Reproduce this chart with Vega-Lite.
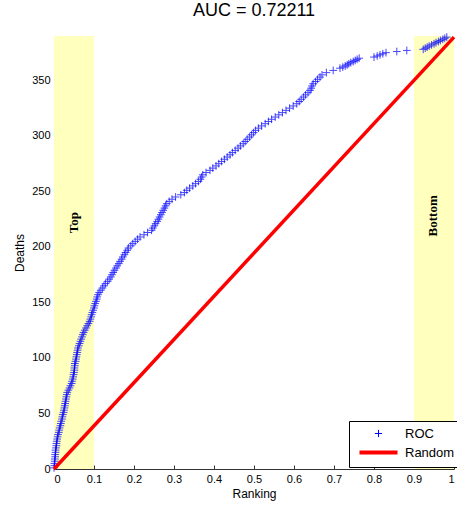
{
  "$schema": "https://vega.github.io/schema/vega-lite/v6.json",
  "width": 400,
  "height": 433,
  "autosize": "none",
  "padding": {"left": 54, "top": 36, "right": 3, "bottom": 37},
  "background": "white",
  "title": {"text": "AUC = 0.72211", "fontSize": 18, "font": "Liberation Sans", "fontWeight": "normal", "color": "black", "offset": 10, "anchor": "middle"},
  "config": {
    "view": {"stroke": null},
    "axis": {
      "grid": false,
      "domainColor": "#333333",
      "tickColor": "#333333",
      "tickSize": -4,
      "labelPadding": 8,
      "labelFont": "Liberation Sans",
      "labelFontSize": 11,
      "labelColor": "black",
      "titleFont": "Liberation Sans",
      "titleFontSize": 12,
      "titleFontWeight": "normal",
      "titleColor": "black"
    },
    "legend": {
      "orient": "none",
      "legendX": 295,
      "legendY": 385,
      "strokeColor": "black",
      "fillColor": "white",
      "padding": 6,
      "cornerRadius": 0,
      "labelFont": "Liberation Sans",
      "labelFontSize": 13,
      "labelColor": "black",
      "symbolSize": 64,
      "labelOffset": 37,
      "rowPadding": 3
    }
  },
  "encoding": {
    "x": {"field": "x", "type": "quantitative", "scale": {"domain": [0, 1], "nice": false},
      "axis": {"title": "Ranking", "values": [0, 0.1, 0.2, 0.3, 0.4, 0.5, 0.6, 0.7, 0.8, 0.9, 1], "format": "~g", "titlePadding": 4}},
    "y": {"field": "y", "type": "quantitative", "scale": {"domain": [0, 390], "nice": false},
      "axis": {"title": "Deaths", "values": [0, 50, 100, 150, 200, 250, 300, 350], "titlePadding": 5}}
  },
  "layer": [
    {
      "data": {"values": [{"x": 0, "x2": 0.1}, {"x": 0.9, "x2": 1}]},
      "mark": {"type": "rect", "color": "#ffffbe"},
      "encoding": {"x2": {"field": "x2"}, "y": null}
    },
    {
      "data": {"values": [
{"x":0.000,"y":1},{"x":0.001,"y":3},{"x":0.001,"y":5},{"x":0.002,"y":7},{"x":0.002,"y":9},{"x":0.003,"y":11},{"x":0.003,"y":13},{"x":0.004,"y":15},{"x":0.004,"y":17},{"x":0.005,"y":19},
{"x":0.006,"y":21},{"x":0.006,"y":23},{"x":0.007,"y":25},{"x":0.008,"y":27},{"x":0.009,"y":29},{"x":0.010,"y":31},{"x":0.012,"y":33},{"x":0.013,"y":35},{"x":0.014,"y":37},{"x":0.016,"y":39},
{"x":0.017,"y":41},{"x":0.018,"y":43},{"x":0.020,"y":45},{"x":0.021,"y":47},{"x":0.022,"y":49},{"x":0.024,"y":51},{"x":0.025,"y":53},{"x":0.026,"y":55},{"x":0.027,"y":57},{"x":0.028,"y":59},
{"x":0.029,"y":61},{"x":0.030,"y":63},{"x":0.031,"y":65},{"x":0.032,"y":67},{"x":0.033,"y":69},{"x":0.036,"y":71},{"x":0.039,"y":73},{"x":0.041,"y":75},{"x":0.044,"y":77},{"x":0.045,"y":79},
{"x":0.047,"y":81},{"x":0.048,"y":83},{"x":0.049,"y":85},{"x":0.050,"y":87},{"x":0.051,"y":89},{"x":0.051,"y":91},{"x":0.052,"y":93},{"x":0.052,"y":95},{"x":0.054,"y":97},{"x":0.055,"y":99},
{"x":0.056,"y":101},{"x":0.057,"y":103},{"x":0.058,"y":105},{"x":0.059,"y":107},{"x":0.060,"y":109},{"x":0.062,"y":111},{"x":0.064,"y":113},{"x":0.066,"y":115},{"x":0.068,"y":117},{"x":0.070,"y":119},
{"x":0.072,"y":121},{"x":0.074,"y":123},{"x":0.077,"y":125},{"x":0.080,"y":127},{"x":0.083,"y":129},{"x":0.086,"y":131},{"x":0.089,"y":133},{"x":0.091,"y":135},{"x":0.093,"y":137},{"x":0.094,"y":139},
{"x":0.096,"y":141},{"x":0.098,"y":143},{"x":0.100,"y":145},{"x":0.101,"y":147},{"x":0.103,"y":149},{"x":0.105,"y":151},{"x":0.107,"y":153},{"x":0.108,"y":155},{"x":0.110,"y":157},{"x":0.113,"y":159},
{"x":0.117,"y":161},{"x":0.121,"y":163},{"x":0.125,"y":165},{"x":0.129,"y":167},{"x":0.134,"y":169},{"x":0.138,"y":171},{"x":0.142,"y":173},{"x":0.145,"y":175},{"x":0.148,"y":177},{"x":0.151,"y":179},
{"x":0.155,"y":181},{"x":0.158,"y":183},{"x":0.162,"y":185},{"x":0.165,"y":187},{"x":0.169,"y":189},{"x":0.172,"y":191},{"x":0.176,"y":193},{"x":0.179,"y":195},{"x":0.183,"y":197},{"x":0.186,"y":199},
{"x":0.192,"y":201},{"x":0.197,"y":203},{"x":0.203,"y":205},{"x":0.209,"y":207},{"x":0.215,"y":209},{"x":0.225,"y":211},{"x":0.234,"y":213},{"x":0.244,"y":215},{"x":0.247,"y":217},{"x":0.251,"y":219},
{"x":0.254,"y":221},{"x":0.258,"y":223},{"x":0.261,"y":225},{"x":0.264,"y":227},{"x":0.267,"y":229},{"x":0.270,"y":231},{"x":0.273,"y":233},{"x":0.276,"y":235},{"x":0.279,"y":237},{"x":0.282,"y":239},
{"x":0.288,"y":241},{"x":0.295,"y":243},{"x":0.304,"y":245},{"x":0.317,"y":247},{"x":0.326,"y":249},{"x":0.332,"y":251},{"x":0.339,"y":253},{"x":0.347,"y":255},{"x":0.354,"y":257},{"x":0.361,"y":259},
{"x":0.366,"y":261},{"x":0.369,"y":263},{"x":0.372,"y":265},{"x":0.380,"y":267},{"x":0.390,"y":269},{"x":0.397,"y":271},{"x":0.405,"y":273},{"x":0.412,"y":275},{"x":0.419,"y":277},{"x":0.426,"y":279},
{"x":0.433,"y":281},{"x":0.440,"y":283},{"x":0.446,"y":285},{"x":0.453,"y":287},{"x":0.460,"y":289},{"x":0.466,"y":291},{"x":0.473,"y":293},{"x":0.478,"y":295},{"x":0.483,"y":297},{"x":0.489,"y":299},
{"x":0.494,"y":301},{"x":0.499,"y":303},{"x":0.504,"y":305},{"x":0.511,"y":307},{"x":0.519,"y":309},{"x":0.528,"y":311},{"x":0.536,"y":313},{"x":0.544,"y":315},{"x":0.553,"y":317},{"x":0.562,"y":319},
{"x":0.571,"y":321},{"x":0.580,"y":323},{"x":0.589,"y":325},{"x":0.598,"y":327},{"x":0.607,"y":329},{"x":0.613,"y":331},{"x":0.618,"y":333},{"x":0.624,"y":335},{"x":0.629,"y":337},{"x":0.635,"y":339},
{"x":0.640,"y":341},{"x":0.643,"y":343},{"x":0.645,"y":345},{"x":0.648,"y":347},{"x":0.654,"y":349},{"x":0.659,"y":351},{"x":0.665,"y":353},{"x":0.670,"y":355},{"x":0.681,"y":357},{"x":0.698,"y":359},
{"x":0.715,"y":361},{"x":0.722,"y":362},{"x":0.728,"y":363},{"x":0.733,"y":364},{"x":0.737,"y":365},{"x":0.742,"y":366},{"x":0.748,"y":367},{"x":0.753,"y":368},{"x":0.758,"y":369},{"x":0.763,"y":370},
{"x":0.800,"y":371},{"x":0.808,"y":372},{"x":0.815,"y":373},{"x":0.822,"y":374},{"x":0.830,"y":375},{"x":0.857,"y":376},{"x":0.882,"y":377},{"x":0.923,"y":378},{"x":0.928,"y":379},{"x":0.933,"y":380},
{"x":0.938,"y":381},{"x":0.944,"y":382},{"x":0.950,"y":383},{"x":0.955,"y":384},{"x":0.961,"y":385},{"x":0.966,"y":386},{"x":0.972,"y":387},{"x":0.977,"y":388},{"x":0.982,"y":389}
      ]},
      "mark": {"type": "point", "shape": "M-1,0L1,0M0,-1L0,1", "filled": false, "strokeWidth": 1, "size": 60, "opacity": 0.72},
      "encoding": {
        "color": {
          "datum": "ROC",
          "scale": {"domain": ["ROC", "Random"], "range": ["#0000ff", "#ff0000"]},
          "legend": {
            "title": null,
            "encode": {
              "symbols": {
                "update": {
                  "shape": {"signal": "datum.value === 'ROC' ? 'M3.35,0L5.15,0M4.25,-0.9L4.25,0.9' : 'M-0.5,0L9,0'"},
                  "strokeWidth": {"signal": "datum.value === 'ROC' ? 1 : 4"},
                  "stroke": {"signal": "datum.value === 'ROC' ? '#0000ff' : '#ff0000'"},
                  "fill": {"value": "transparent"},
                  "opacity": {"value": 1},
                  "strokeOpacity": {"value": 1}
                }
              }
            }
          }
        }
      }
    },
    {
      "data": {"values": [{"x": 0, "y": 0}, {"x": 1, "y": 389}]},
      "mark": {"type": "line", "strokeWidth": 3.5},
      "encoding": {"color": {"datum": "Random",
          "legend": {
            "title": null,
            "encode": {
              "symbols": {
                "update": {
                  "shape": {"signal": "datum.value === 'ROC' ? 'M3.35,0L5.15,0M4.25,-0.9L4.25,0.9' : 'M-0.5,0L9,0'"},
                  "strokeWidth": {"signal": "datum.value === 'ROC' ? 1 : 4"},
                  "stroke": {"signal": "datum.value === 'ROC' ? '#0000ff' : '#ff0000'"},
                  "fill": {"value": "transparent"},
                  "opacity": {"value": 1},
                  "strokeOpacity": {"value": 1}
                }
              }
            }
          }}}
    },
    {
      "data": {"values": [{"x": 0.05, "y": 222, "label": "Top"}, {"x": 0.948, "y": 228, "label": "Bottom"}]},
      "mark": {"type": "text", "angle": 270, "font": "Liberation Serif", "fontWeight": "bold", "fontSize": 13, "align": "center", "baseline": "middle", "color": "black"},
      "encoding": {"text": {"field": "label"}}
    }
  ]
}
